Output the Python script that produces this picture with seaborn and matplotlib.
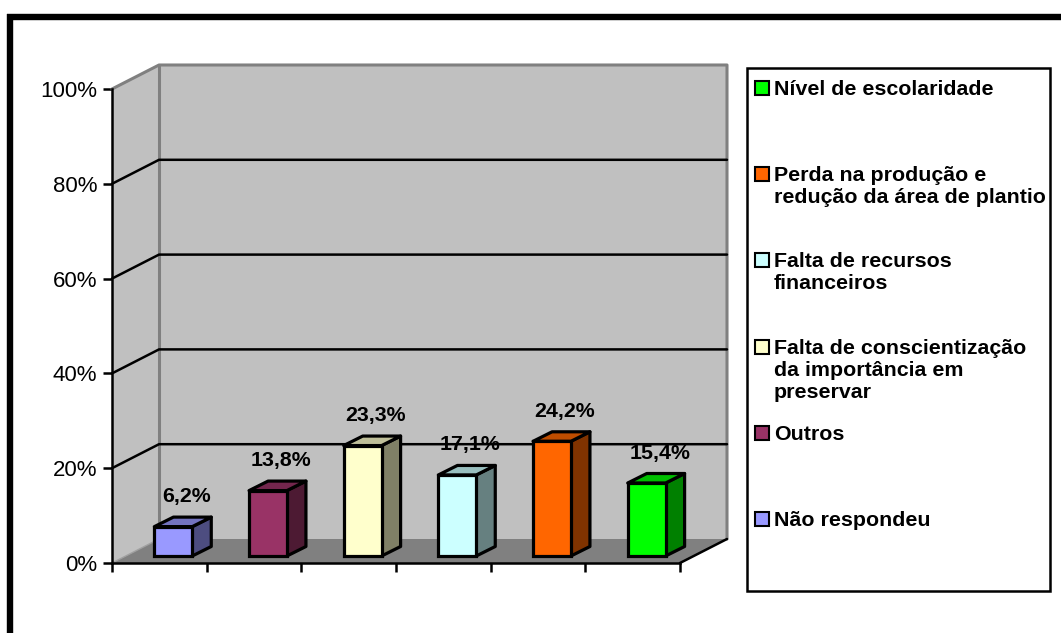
import numpy as np
import pandas as pd
import matplotlib
matplotlib.use("Agg")
import matplotlib.pyplot as plt
import seaborn as sns
from matplotlib.patches import Polygon, Rectangle
from matplotlib.lines import Line2D
from matplotlib.transforms import ScaledTranslation
from matplotlib.colors import to_rgb

# ---- data -------------------------------------------------------------
categorias = [
    "Não respondeu",
    "Outros",
    "Falta de conscientização da importância em preservar",
    "Falta de recursos financeiros",
    "Perda na produção e redução da área de plantio",
    "Nível de escolaridade",
]
percentuais = [6.2, 13.8, 23.3, 17.1, 24.2, 15.4]
rotulos_legenda = [
    "Não respondeu",
    "Outros",
    "Falta de conscientização\nda importância em\npreservar",
    "Falta de recursos\nfinanceiros",
    "Perda na produção e\nredução da área de plantio",
    "Nível de escolaridade",
]
cores = ["#9999FF", "#993366", "#FFFFCC", "#CCFFFF", "#FF6600", "#00FF00"]
ticks_y = [0, 20, 40, 60, 80, 100]

# ---- figure setup -----------------------------------------------------
sns.set_theme(style="white")
plt.rcParams["font.family"] = ["Liberation Sans", "DejaVu Sans"]

W, H, DPI = 1061, 633, 100
fig = plt.figure(figsize=(W / DPI, H / DPI), dpi=DPI)
fig.patch.set_facecolor("white")


def fx(px):
    return px / W


def fy(py):
    return 1 - py / H


# front plane of the 3-D box
X0, X1, Y0, Y1 = 112, 680, 563, 89
ax = fig.add_axes([fx(X0), fy(Y0), (X1 - X0) / W, (Y0 - Y1) / H])
ax.set_facecolor("none")

df = pd.DataFrame({"categoria": categorias, "percentual": percentuais})
sns.barplot(
    data=df, x="categoria", y="percentual", hue="categoria",
    order=categorias, hue_order=categorias, palette=cores,
    width=0.4, saturation=1, edgecolor="black", linewidth=2.3,
    legend=False, ax=ax, zorder=5,
)
bars = [p for c in ax.containers for p in c]

ax.set_xlim(-0.5, 5.5)
ax.set_ylim(0, 100)

# data units per pixel
ux = 6.0 / (X1 - X0)
uy = 100.0 / (Y0 - Y1)


def pt(x, y, dxp=0.0, dyp=0.0):
    return (x + dxp * ux, y + dyp * uy)


DX, DY = 47, 24           # depth of the walls (px)
FDX, FDY = 14, 7          # bar front plane offset (px)
BDX, BDY = 19, 9.5        # bar depth (px)

# ---- walls and floor --------------------------------------------------
wall = "#C0C0C0"
edge_gray = "#808080"
ax.add_patch(Polygon([(-0.5, 0), (-0.5, 100), pt(-0.5, 100, DX, DY), pt(-0.5, 0, DX, DY)],
                     closed=True, fc=wall, ec="none", zorder=0.5, clip_on=False))
ax.add_patch(Polygon([pt(-0.5, 0, DX, DY), pt(5.5, 0, DX, DY), pt(5.5, 100, DX, DY), pt(-0.5, 100, DX, DY)],
                     closed=True, fc=wall, ec="none", zorder=0.5, clip_on=False))

for xs, ys in [
    ([-0.5, pt(-0.5, 100, DX, DY)[0], pt(5.5, 100, DX, DY)[0], pt(5.5, 0, DX, DY)[0]],
     [100, pt(-0.5, 100, DX, DY)[1], pt(5.5, 100, DX, DY)[1], pt(5.5, 0, DX, DY)[1]]),
    ([pt(-0.5, 0, DX, DY)[0]] * 2, [pt(-0.5, 0, DX, DY)[1], pt(-0.5, 100, DX, DY)[1]]),
]:
    ax.add_line(Line2D(xs, ys, color=edge_gray, lw=2.2, zorder=1, clip_on=False))

for t in ticks_y[1:-1]:
    a, b = pt(-0.5, t, DX, DY), pt(5.5, t, DX, DY)
    ax.add_line(Line2D([-0.5, a[0], b[0]], [t, a[1], b[1]], color="black", lw=1.8,
                       zorder=1.2, clip_on=False))

ax.add_patch(Polygon([(-0.5, 0), (5.5, 0), pt(5.5, 0, DX, DY), pt(-0.5, 0, DX, DY)],
                     closed=True, fc="#808080", ec="none", zorder=2, clip_on=False))
a = pt(-0.5, 0, DX, DY)
ax.add_line(Line2D([-0.5, a[0]], [0, a[1]], color="#A0A0A0", lw=1, zorder=2.1, clip_on=False))
b = pt(5.5, 0, DX, DY)
ax.add_line(Line2D([5.5, b[0]], [0, b[1]], color="black", lw=1.8, zorder=2.1, clip_on=False))

# ---- 3-D bars ---------------------------------------------------------
shift = ax.transData + ScaledTranslation(FDX / DPI, FDY / DPI, fig.dpi_scale_trans)
for p, v in zip(bars, percentuais):
    p.set_transform(shift)
    p.set_clip_on(False)
    base = np.array(to_rgb(p.get_facecolor()))
    x0 = p.get_x()
    x1 = x0 + p.get_width()
    yb = p.get_y()
    yt = yb + p.get_height()
    side = [(x1, yb), (x1, yt), pt(x1, yt, BDX, BDY), pt(x1, yb, BDX, BDY)]
    top = [(x0, yt), (x1, yt), pt(x1, yt, BDX, BDY), pt(x0, yt, BDX, BDY)]
    ax.add_patch(Polygon(side, closed=True, fc=base * 0.5, ec="black", lw=2.3,
                         joinstyle="round", transform=shift, zorder=4.9, clip_on=False))
    ax.add_patch(Polygon(top, closed=True, fc=base * 0.75, ec="black", lw=2.3,
                         joinstyle="round", transform=shift, zorder=4.9, clip_on=False))
    cx = x0 + p.get_width() / 2
    ax.annotate(f"{v:.1f}%".replace(".", ","), xy=(cx, v),
                xytext=(27 * 0.72, 37 * 0.72), textcoords="offset points",
                ha="center", va="center", fontsize=15.4, fontweight="bold",
                color="black", zorder=6, annotation_clip=False)

# ---- axes -------------------------------------------------------------
for s in ["top", "right"]:
    ax.spines[s].set_visible(False)
for s in ["left", "bottom"]:
    ax.spines[s].set_color("black")
    ax.spines[s].set_linewidth(1.8)
    ax.spines[s].set_zorder(3)

ax.set_xticks(np.arange(-0.5, 6.0, 1.0))
ax.set_xticklabels([])
ax.set_yticks(ticks_y)
ax.set_yticklabels([f"{t}%" for t in ticks_y])
ax.tick_params(axis="both", direction="out", length=9 * 0.72, width=1.8, color="black",
               bottom=True, left=True, labelsize=16, labelcolor="black", pad=4)
ax.set_xlabel("")
ax.set_ylabel("")

# ---- legend -----------------------------------------------------------
LX0, LX1, LY0, LY1 = 747, 1050, 68, 591
fig.add_artist(Rectangle((fx(LX0), fy(LY1)), (LX1 - LX0) / W, (LY1 - LY0) / H,
                         transform=fig.transFigure, fc="white", ec="black", lw=1.8))
entrada_y0, passo = 88, 86.2
for i, (rot, cor) in enumerate(zip(rotulos_legenda[::-1], cores[::-1])):
    yc = entrada_y0 + i * passo
    fig.add_artist(Rectangle((fx(755), fy(yc + 7)), 14 / W, 14 / H,
                             transform=fig.transFigure, fc=cor, ec="black", lw=1.5))
    fig.text(fx(774), fy(yc - 8), rot, ha="left", va="top", fontsize=15.4,
             fontweight="bold", color="black", linespacing=1.2)

# ---- outer frame ------------------------------------------------------
fig.add_artist(Line2D([fx(7), 1.0], [fy(16.5), fy(16.5)], transform=fig.transFigure,
                      color="black", lw=4.6, solid_capstyle="butt"))
fig.add_artist(Line2D([fx(10), fx(10)], [fy(13.5), 0.0], transform=fig.transFigure,
                      color="black", lw=4.6, solid_capstyle="butt"))

fig.savefig("out.png", dpi=DPI)
